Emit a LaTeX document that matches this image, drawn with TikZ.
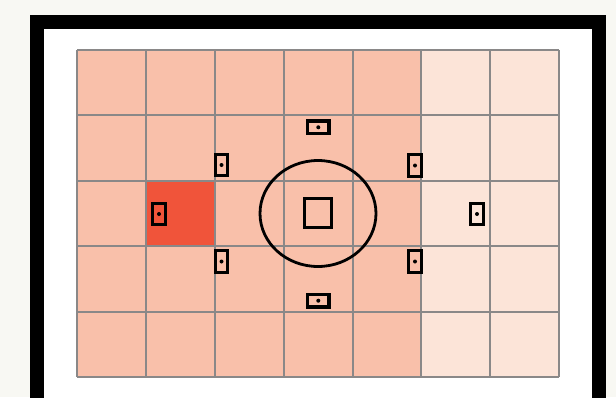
\documentclass[tikz,border=0pt]{standalone}
\usetikzlibrary{shapes.geometric}
\definecolor{bgcream}{RGB}{248,248,243}
\definecolor{salmon}{RGB}{249,192,170}
\definecolor{paleset}{RGB}{252,228,216}
\definecolor{hotcell}{RGB}{240,84,58}
\definecolor{gridgray}{RGB}{138,136,136}
\tikzset{
  afv/.style={draw=black, line width=3.2pt, rectangle, inner sep=0pt, minimum width=12.5pt, minimum height=21.5pt},
  afh/.style={draw=black, line width=3.2pt, rectangle, inner sep=0pt, minimum width=21.5pt, minimum height=12.5pt},
  afdot/.style={fill=black},
  gridline/.style={draw=gridgray, line width=2pt},
}
\begin{document}
\begin{tikzpicture}[x=1pt,y=-1pt]
\useasboundingbox (0,0) rectangle (616,397);
\clip (0,0) rectangle (616,397);
\fill[bgcream] (0,0) rectangle (616,397);
\fill[white] (37,22) rectangle (599,420);
\draw[line width=14pt] (37,420) -- (37,22) -- (599,22) -- (599,420);
% cells
\fill[salmon] (77.4,50) rectangle (421.4,377);
\fill[paleset] (421.4,50) rectangle (559,377);
\fill[hotcell] (146.2,180.8) rectangle (215,246.2);
% grid lines
\foreach \i in {0,...,7} {
  \draw[gridline] ({77.4+68.8*\i},50) -- ({77.4+68.8*\i},377);
}
\foreach \j in {0,...,5} {
  \draw[gridline] (77.4,{50+65.4*\j}) -- (559,{50+65.4*\j});
}
% central circle and square
\node[draw=black, line width=2.8pt, ellipse, inner sep=0pt, minimum width=116pt, minimum height=106pt] (ring) at (318,213.5) {};
\node[draw=black, line width=3pt, rectangle, inner sep=0pt, minimum width=27pt, minimum height=29pt] (centre) at (318.3,213.3) {};
% AF points
\node[afh] (top) at (318.3,127.3) {};
\node[afh] (bottom) at (318.3,300.7) {};
\node[afv] (ul) at (221.5,165) {};
\node[afv] (ur) at (415,165.5) {};
\node[afv] (ll) at (221.5,261.5) {};
\node[afv] (lr) at (415,261.5) {};
\node[afv] (left) at (159,214) {};
\node[afv] (right) at (477,214) {};
\foreach \n in {top,bottom,ul,ur,ll,lr,left,right} {
  \fill[afdot] (\n.center) circle (2pt);
}
\end{tikzpicture}
\end{document}
